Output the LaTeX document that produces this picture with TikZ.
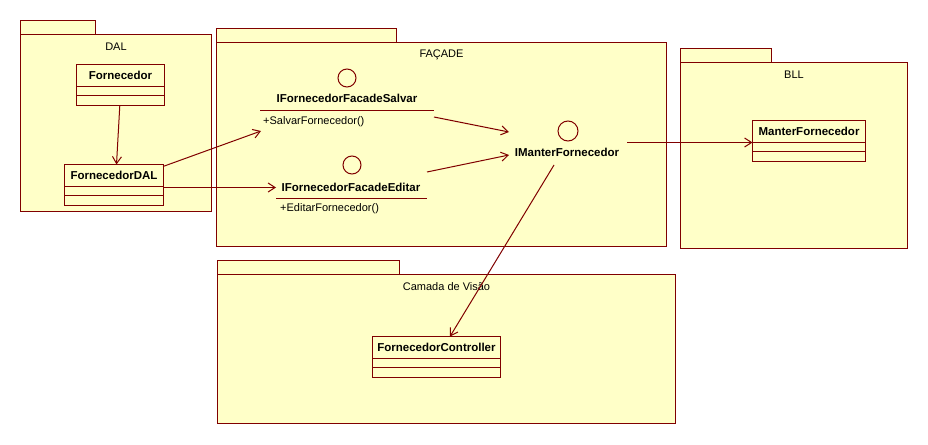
\documentclass[tikz,border=0pt]{standalone}
\usepackage{fontspec}
\setmainfont{Liberation Sans}
\usetikzlibrary{arrows.meta}
\definecolor{umlfill}{RGB}{255,255,200}
\definecolor{umlline}{RGB}{128,0,0}
\tikzset{
  pkgbox/.style={draw=umlline, fill=umlfill, line width=1pt, rectangle, inner sep=0pt, outer sep=0pt, anchor=north west},
  pkgtitle/.style={font=\fontsize{11}{13}\selectfont, inner sep=0pt},
  clsbox/.style={draw=umlline, fill=umlfill, line width=1pt, rectangle, inner sep=0pt, outer sep=0pt, anchor=north west, minimum height=41pt},
  clsname/.style={font=\fontsize{11.5}{13}\bfseries\selectfont, inner sep=0pt},
  ifcircle/.style={draw=umlline, line width=1pt, circle, inner sep=0pt, outer sep=0pt},
  ifname/.style={font=\fontsize{11.5}{13}\bfseries\selectfont, inner sep=0pt},
  opname/.style={font=\fontsize{11}{13}\selectfont, inner sep=0pt, anchor=west},
  divider/.style={draw=umlline, line width=1pt},
  dep/.style={draw=umlline, line width=1pt, -{Straight Barb[length=7pt, width=9pt, line width=1pt]}},
}
% package: name, x, y (tab top), tab width, body width, body height, title
\newcommand{\umlpackage}[7]{%
  \draw[umlline, fill=umlfill, line width=1pt] (#2,#3) rectangle ++(#4,14);
  \node[pkgbox, minimum width=#5pt, minimum height=#6pt] (#1) at (#2,#3+14) {};
  \node[pkgtitle] (#1-title) at ([yshift=-12pt]#1.north) {#7};
}
% class box: name, x, y, width, label
\newcommand{\umlclass}[5]{%
  \node[clsbox, minimum width=#4pt] (#1) at (#2,#3) {};
  \node[clsname] (#1-name) at ([yshift=-11pt]#1.north) {#5};
  \draw[divider] ([yshift=-22pt]#1.north west) -- ([yshift=-22pt]#1.north east);
  \draw[divider] ([yshift=-31pt]#1.north west) -- ([yshift=-31pt]#1.north east);
}
\begin{document}
\begin{tikzpicture}[x=1pt, y=-1pt]
\useasboundingbox[fill=white] (0,0) rectangle (928,444);

% packages
\umlpackage{dal}{20.5}{20.5}{75}{191}{177}{DAL}
\umlpackage{facade}{216.5}{28.5}{180}{450}{204}{FAÇADE}
\umlpackage{bll}{680.5}{48.5}{91}{227}{186}{BLL}
\umlpackage{visao}{217.5}{260.5}{182}{458}{149}{Camada de Visão}

% classes
\umlclass{forn}{76.5}{64.5}{88}{Fornecedor}
\umlclass{fdal}{64.5}{164.5}{99}{FornecedorDAL}
\umlclass{manter}{752.5}{120.5}{113}{ManterFornecedor}
\umlclass{ctrl}{372.5}{336.5}{128}{FornecedorController}

% interface IFornecedorFacadeSalvar
\node[ifcircle, minimum size=18pt] (salvarc) at (347,78) {};
\node[ifname] (salvar) at (347,98) {IFornecedorFacadeSalvar};
\coordinate (salvarL) at (260,110.5);
\coordinate (salvarR) at (434,110.5);
\draw[divider] (salvarL) -- (salvarR);
\node[opname] (salvarop) at (263,122) {+SalvarFornecedor()};

% interface IFornecedorFacadeEditar
\node[ifcircle, minimum size=18pt] (editarc) at (352,165) {};
\node[ifname] (editar) at (351,187) {IFornecedorFacadeEditar};
\coordinate (editarL) at (276,198.5);
\coordinate (editarR) at (427,198.5);
\draw[divider] (editarL) -- (editarR);
\node[opname] (editarop) at (280,209) {+EditarFornecedor()};

% interface IManterFornecedor
\node[ifcircle, minimum size=20pt] (imanterc) at (568,131) {};
\node[ifname] (imanter) at (567,152) {IManterFornecedor};

% connector end points
\coordinate (fdalE1) at (163,166.5);
\coordinate (fdalE2) at (163,187.5);
\coordinate (salvarIn) at (261,131);
\coordinate (editarIn) at (276,187.5);
\coordinate (salvarOut) at (434,117);
\coordinate (editarOut) at (427,172);
\coordinate (imanterIn1) at (509,132);
\coordinate (imanterIn2) at (509,155);
\coordinate (imanterE) at (627,142.5);
\coordinate (imanterS) at (554,165);

% dependencies
\draw[dep] ([xshift=-0.7pt]forn.south) -- ([xshift=2.5pt]fdal.north);
\draw[dep] (fdalE1) -- (salvarIn);
\draw[dep] (fdalE2) -- (editarIn);
\draw[dep] (salvarOut) -- (imanterIn1);
\draw[dep] (editarOut) -- (imanterIn2);
\draw[dep] (imanterE) -- (manter.west |- imanterE);
\draw[dep] (imanterS) -- ([xshift=77.5pt]ctrl.north west);
\end{tikzpicture}
\end{document}
